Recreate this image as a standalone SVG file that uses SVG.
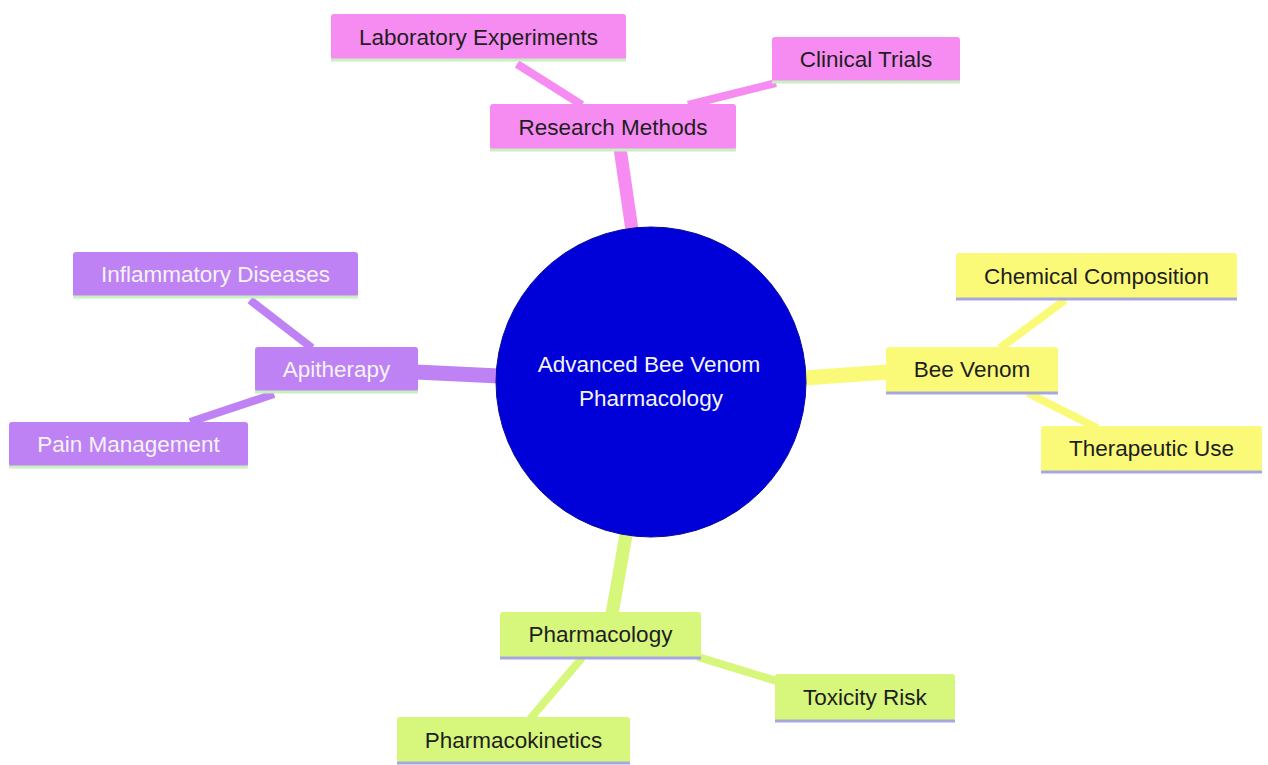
<svg xmlns="http://www.w3.org/2000/svg" width="1268" height="765" viewBox="0 0 1268 765">
<style>
text{font-family:"Liberation Sans",Arial,sans-serif;font-size:22.5px;text-anchor:middle;dominant-baseline:central}
.pk{fill:#f68cf1}.pu{fill:#bf82f4}.ye{fill:#fafa78}.gr{fill:#d7f67c}
.lpk{stroke:#f68cf1}.lpu{stroke:#bf82f4}.lye{stroke:#fafa78}.lgr{stroke:#d7f67c}
.bgn{stroke:#c8f0c0;stroke-width:3}.bbl{stroke:#a7a7e0;stroke-width:3}
.dk{fill:#1e1e1e}.wt{fill:#f4f4f4}
line{stroke-linecap:butt}
</style>
<rect width="1268" height="765" fill="#ffffff"/>
<g id="connectors" fill="none">
<line class="lpk" x1="620" y1="148" x2="632" y2="230" stroke-width="13"/>
<line class="lpk" x1="517" y1="64" x2="582" y2="105" stroke-width="8"/>
<line class="lpk" x1="776" y1="83" x2="688" y2="105" stroke-width="8"/>
<line class="lpu" x1="416" y1="372" x2="499" y2="376" stroke-width="15"/>
<line class="lpu" x1="250" y1="300" x2="312" y2="348" stroke-width="8"/>
<line class="lpu" x1="190" y1="422" x2="274" y2="394" stroke-width="8"/>
<line class="lye" x1="804" y1="378" x2="888" y2="372" stroke-width="15"/>
<line class="lye" x1="1065" y1="300" x2="1000" y2="348" stroke-width="8"/>
<line class="lye" x1="1028" y1="393" x2="1097" y2="428" stroke-width="8"/>
<line class="lgr" x1="626" y1="535" x2="612" y2="614" stroke-width="13"/>
<line class="lgr" x1="582" y1="658" x2="530" y2="719" stroke-width="8"/>
<line class="lgr" x1="698" y1="657" x2="780" y2="682" stroke-width="8"/>
</g>
<g id="root">
<circle cx="651" cy="382" r="155" fill="#0000d8" stroke="#0a0a9a" stroke-width="1"/>
<text x="649" y="364" class="wt">Advanced Bee Venom</text>
<text x="651" y="398" class="wt">Pharmacology</text>
</g>
<g id="research-methods">
<rect x="490" y="104" width="246" height="46" rx="3" class="pk"/>
<line x1="490" y1="150" x2="736" y2="150" class="bgn"/>
<text x="613" y="127" class="dk">Research Methods</text>
</g>
<g id="laboratory-experiments">
<rect x="331" y="14" width="295" height="46" rx="3" class="pk"/>
<line x1="331" y1="60" x2="626" y2="60" class="bgn"/>
<text x="478.5" y="37" class="dk">Laboratory Experiments</text>
</g>
<g id="clinical-trials">
<rect x="772" y="37" width="188" height="45" rx="3" class="pk"/>
<line x1="772" y1="82" x2="960" y2="82" class="bgn"/>
<text x="866" y="59.5" class="dk">Clinical Trials</text>
</g>
<g id="apitherapy">
<rect x="255" y="347" width="163" height="45" rx="3" class="pu"/>
<line x1="255" y1="392" x2="418" y2="392" class="bgn"/>
<text x="336.5" y="369.5" class="wt">Apitherapy</text>
</g>
<g id="inflammatory-diseases">
<rect x="73" y="252" width="285" height="45" rx="3" class="pu"/>
<line x1="73" y1="297" x2="358" y2="297" class="bgn"/>
<text x="215.5" y="274.5" class="wt">Inflammatory Diseases</text>
</g>
<g id="pain-management">
<rect x="9" y="422" width="239" height="45" rx="3" class="pu"/>
<line x1="9" y1="467" x2="248" y2="467" class="bgn"/>
<text x="128.5" y="444.5" class="wt">Pain Management</text>
</g>
<g id="bee-venom">
<rect x="886" y="347" width="172" height="46" rx="3" class="ye"/>
<line x1="886" y1="393" x2="1058" y2="393" class="bbl"/>
<text x="972" y="369" class="dk">Bee Venom</text>
</g>
<g id="chemical-composition">
<rect x="956" y="253" width="281" height="46" rx="3" class="ye"/>
<line x1="956" y1="299" x2="1237" y2="299" class="bbl"/>
<text x="1096.5" y="276" class="dk">Chemical Composition</text>
</g>
<g id="therapeutic-use">
<rect x="1041" y="426" width="221" height="46" rx="3" class="ye"/>
<line x1="1041" y1="472" x2="1262" y2="472" class="bbl"/>
<text x="1151.5" y="448" class="dk">Therapeutic Use</text>
</g>
<g id="pharmacology">
<rect x="500" y="612" width="201" height="46" rx="3" class="gr"/>
<line x1="500" y1="658" x2="701" y2="658" class="bbl"/>
<text x="600.5" y="634" class="dk">Pharmacology</text>
</g>
<g id="toxicity-risk">
<rect x="775" y="674" width="180" height="47" rx="3" class="gr"/>
<line x1="775" y1="721" x2="955" y2="721" class="bbl"/>
<text x="865" y="697" class="dk">Toxicity Risk</text>
</g>
<g id="pharmacokinetics">
<rect x="397" y="717" width="233" height="46" rx="3" class="gr"/>
<line x1="397" y1="763" x2="630" y2="763" class="bbl"/>
<text x="513.5" y="740" class="dk">Pharmacokinetics</text>
</g>
</svg>
